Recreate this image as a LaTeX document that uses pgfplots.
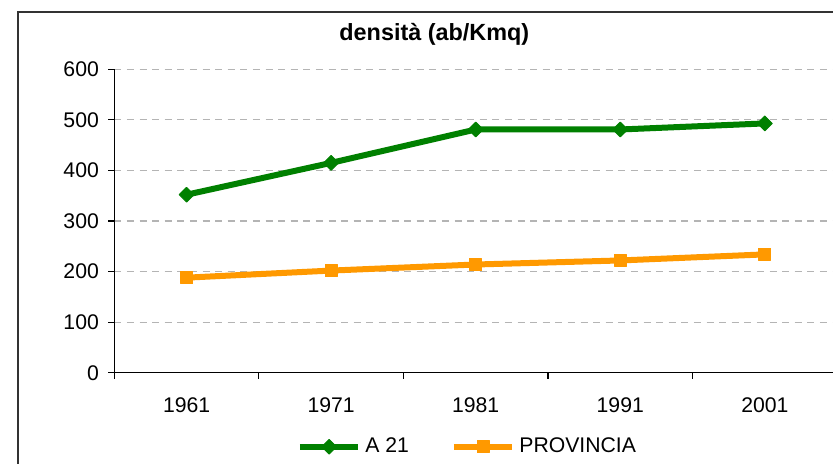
\documentclass[border=0pt]{standalone}
\usepackage{fontspec}
\setmainfont{Liberation Sans}
\usepackage{pgfplots}
\pgfplotsset{compat=1.18}
\definecolor{agreen}{HTML}{008000}
\definecolor{aorange}{HTML}{FF9900}
\definecolor{gridgray}{HTML}{B4B4B4}
\begin{document}
\begin{tikzpicture}
\useasboundingbox (0,0) rectangle (416.5pt,-231.5pt);
\clip (0,0) rectangle (416.5pt,-231.5pt);
\fill[white] (0,0) rectangle (416.5pt,-231.5pt);
\draw[line width=0.9pt, black!80] (9.15pt,-6.15pt) rectangle (440pt,-250pt);
\node[anchor=base, inner sep=0pt, font=\fontsize{11.7}{14}\selectfont\bfseries] at (217.15pt,-20.35pt) {densità (ab/Kmq)};
\begin{axis}[
  at={(57.15pt,-186.35pt)}, anchor=south west,
  scale only axis, width=361.4pt, height=151.7pt,
  xmin=-0.5, xmax=4.5, ymin=0, ymax=600,
  axis x line*=bottom, axis y line*=left,
  axis line style={line width=0.7pt, black},
  ytick={0,100,...,600},
  xtick={-0.5,0.5,...,4.5}, xticklabels={},
  extra x ticks={0,1,2,3,4},
  extra x tick labels={1961,1971,1981,1991,2001},
  extra x tick style={major tick length=0pt, tick label style={yshift=-9pt}},
  tick align=outside, major tick length=3pt,
  tick style={line width=0.6pt, black},
  ymajorgrids, grid style={gridgray, line width=0.6pt, dash pattern=on 3.5pt off 2.8pt},
  /pgf/number format/assume math mode=true,
  tick label style={font=\fontsize{10.6}{12}\selectfont},
  yticklabel style={xshift=-1.2pt},
  legend style={at={(axis description cs:0.490,-0.244)}, anchor=center, draw=none, fill=none,
    legend columns=2, font=\fontsize{10.6}{12}\selectfont,
    /tikz/every even column/.append style={column sep=19pt}},
  legend image code/.code={\draw[mark repeat=2, mark phase=2, #1] plot coordinates {(0pt,0pt)(14.6pt,0pt)(29.2pt,0pt)};},
]
\addplot[agreen, line width=3pt, line join=round, mark=square*, mark size=2.6pt,
  mark options={rotate=45, line width=0.5pt, solid}]
  coordinates {(0,352)(1,415)(2,481)(3,481)(4,493)};
\addlegendentry{A 21}
\addplot[aorange, line width=3pt, line join=round, mark=square*, mark size=3.0pt,
  mark options={line width=0.5pt, solid}]
  coordinates {(0,188)(1,202)(2,214)(3,222)(4,234)};
\addlegendentry{PROVINCIA}
\end{axis}
\end{tikzpicture}
\end{document}
